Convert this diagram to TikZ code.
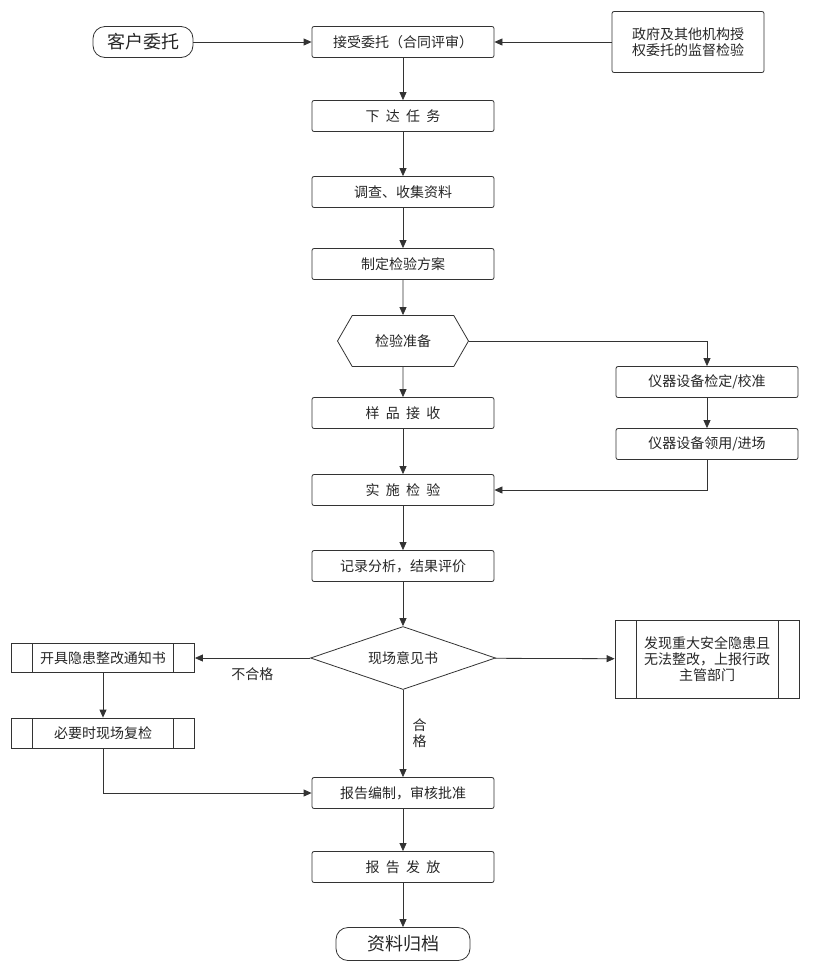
\documentclass[tikz,border=0pt]{standalone}
\usepackage{fontspec}
\setmainfont{Noto Sans CJK SC}
\usetikzlibrary{shapes.geometric, shapes.symbols, arrows.meta, positioning}
\colorlet{linegray}{black!80}

\begin{document}
\begin{tikzpicture}[x=1pt, y=-1pt,
    every node/.style={font=\fontsize{14}{16}\selectfont, text=black!85},
    box/.style={draw=linegray, thick, rectangle, rounded corners=2pt,
      minimum width=182pt, minimum height=31pt, inner sep=2pt},
    term/.style={draw=linegray, thick, rectangle, rounded corners=12pt,
      font=\fontsize{18}{20}\selectfont, minimum height=31pt},
    hexa/.style={draw=linegray, thick, signal, signal to=east and west,
      signal pointer angle=120, minimum width=131pt, minimum height=51pt},
    choice/.style={draw=linegray, thick, diamond, aspect=2.95,
      minimum width=185pt, minimum height=63pt, inner sep=0pt},
    predef/.style={draw=linegray, thick, rectangle, inner sep=2pt,
      path picture={
        \draw[linegray, thick]
          ([xshift=21pt]path picture bounding box.north west) --
          ([xshift=21pt]path picture bounding box.south west)
          ([xshift=-21pt]path picture bounding box.north east) --
          ([xshift=-21pt]path picture bounding box.south east);}},
    arr/.style={-{Triangle[length=8pt, width=7pt]}, linegray, thick}]
  \useasboundingbox (0,0) rectangle (816,978);

  % MAIN COLUMN

  \node[term, minimum width=100pt] (client) at (143,42) {客户委托};
  \node[box] (accept) at (403,42) {接受委托（合同评审）};
  \node[box, minimum width=152pt, minimum height=61pt, align=center]
    (gov) at (688,42) {政府及其他机构授\\权委托的监督检验};
  \node[box] (task) at (403,116) {下\ \ 达\ \ 任\ \ 务};
  \node[box] (survey) at (403,192) {调查、收集资料};
  \node[box] (plan) at (403,264) {制定检验方案};
  \node[hexa] (prep) at (403,341) {检验准备};
  \node[box] (sample) at (403,413) {样\ \ 品\ \ 接\ \ 收};
  \node[box] (calib) at (707,382) {仪器设备检定/校准};
  \node[box] (fetch) at (707,444) {仪器设备领用/进场};
  \node[box] (test) at (403,490) {实\ \ 施\ \ 检\ \ 验};
  \node[box] (record) at (403,566) {记录分析，结果评价};
  \node[choice] (opinion) at (403,658) {现场意见书};
  \node[predef, minimum width=183pt, minimum height=29pt]
    (notice) at (103,658) {开具隐患整改通知书};
  \node[predef, minimum width=183pt, minimum height=30pt]
    (recheck) at (103,733) {必要时现场复检};
  \node[predef, minimum width=184pt, minimum height=78pt, align=center]
    (report) at (707,659) {发现重大安全隐患且\\无法整改，上报行政\\主管部门};
  \node[box] (compile) at (403,793) {报告编制，审核批准};
  \node[box] (issue) at (403,867) {报\ \ 告\ \ 发\ \ 放};
  \node[term, minimum width=134pt, minimum height=33pt] (archive) at (403,944) {资料归档};

  % CONNECTORS

  \draw[arr] (client) -- (accept);
  \draw[arr] (gov) -- (accept);
  \draw[arr] (accept) -- (task);
  \draw[arr] (task) -- (survey);
  \draw[arr] (survey) -- (plan);
  \draw[arr] (plan) -- (prep);
  \draw[arr] (prep) -- (sample);
  \draw[arr] (prep.east) -| (calib.north);
  \draw[arr] (calib) -- (fetch);
  \draw[arr] (fetch.south) |- (test.east);
  \draw[arr] (sample) -- (test);
  \draw[arr] (test) -- (record);
  \draw[arr] (record) -- (opinion);
  \draw[arr] (opinion) -- node[pos=0.5, below=6pt] {不合格} (notice);
  \draw[arr] (opinion) -- (report);
  \draw[arr] (notice) -- (recheck);
  \draw[arr] (recheck.south) |- (compile.west);
  \draw[arr] (opinion) -- node[right=6pt, align=center] {合\\格} (compile);
  \draw[arr] (compile) -- (issue);
  \draw[arr] (issue) -- (archive);

\end{tikzpicture}
\end{document}
